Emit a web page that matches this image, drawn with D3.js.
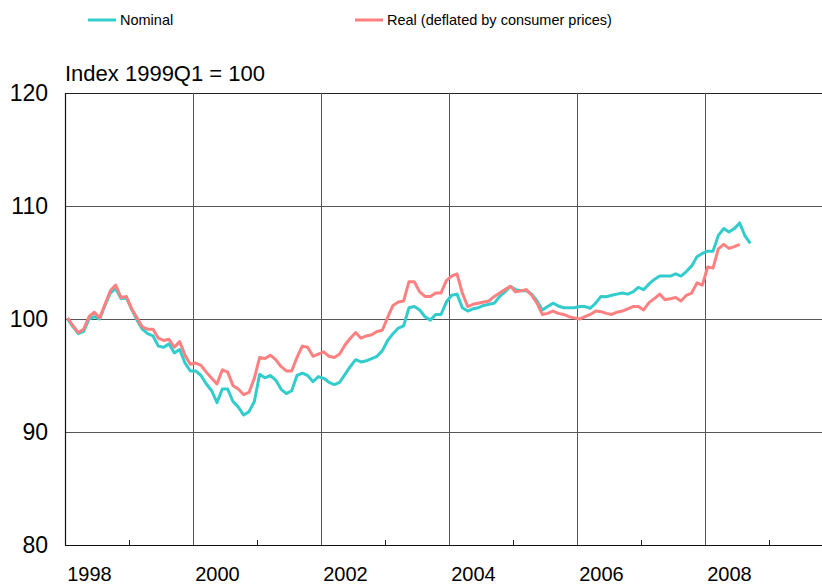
<!DOCTYPE html>
<html>
<head>
<meta charset="utf-8">
<script src="https://cdn.jsdelivr.net/npm/d3@7"></script>
<style>
  body { margin: 0; background: #fff; }
  svg { display: block; font-family: Arial, "Liberation Sans", sans-serif; }
</style>
</head>
<body>
<svg id="chart" width="822" height="587"></svg>
<script>
// monthly index values, 1999Q1 = 100
const nominal = [
  100.0, 99.3, 98.7, 98.9, 100.0, 100.2, 100.0, 101.2, 102.3, 102.7, 101.8, 101.9,
  100.85, 99.9, 99.1, 98.7, 98.5, 97.6, 97.5, 97.8, 97.0, 97.3, 96.1, 95.4,
  95.4, 95.0, 94.25, 93.65, 92.6, 93.8, 93.8, 92.7, 92.2, 91.5, 91.8, 92.7,
  95.1, 94.8, 95.0, 94.6, 93.8, 93.4, 93.65, 95.0, 95.2, 95.0, 94.45, 94.9,
  94.75, 94.4, 94.2, 94.4, 95.1, 95.8, 96.4, 96.2, 96.3, 96.5, 96.7, 97.2,
  98.1, 98.7, 99.2, 99.4, 101.0, 101.1, 100.8, 100.2, 99.9, 100.4, 100.4, 101.5,
  102.1, 102.2, 101.0, 100.7, 100.9, 101.0, 101.2, 101.3, 101.4, 102.0, 102.4, 102.9,
  102.6, 102.5, 102.5, 102.2, 101.6, 100.8, 101.1, 101.4, 101.15, 101.0, 101.0, 101.0,
  101.1, 101.1, 100.95, 101.4, 102.0, 101.97, 102.1, 102.2, 102.3, 102.2, 102.4, 102.8,
  102.6, 103.1, 103.5, 103.8, 103.8, 103.8, 104.0, 103.8, 104.2, 104.7, 105.5, 105.8,
  106.0, 106.0, 107.4, 108.0, 107.7, 108.0, 108.5, 107.35, 106.7
];
const real = [
  100.1, 99.4, 98.8, 99.1, 100.2, 100.6, 100.1, 101.3, 102.5, 103.0, 101.9, 102.0,
  100.9, 100.1, 99.3, 99.1, 99.1, 98.3, 98.1, 98.2, 97.5, 98.0, 96.8, 96.0,
  96.1, 95.9, 95.3, 94.75, 94.25, 95.5, 95.3, 94.1, 93.8, 93.3, 93.5, 94.75,
  96.6, 96.5, 96.8, 96.4, 95.8, 95.4, 95.4, 96.6, 97.6, 97.5, 96.7, 96.9,
  97.1, 96.7, 96.6, 96.9, 97.7, 98.3, 98.8, 98.3, 98.5, 98.6, 98.9, 99.0,
  100.15, 101.2, 101.5, 101.6, 103.3, 103.3, 102.4, 102.0, 102.0, 102.3, 102.3, 103.4,
  103.8, 104.0, 102.3, 101.1, 101.3, 101.4, 101.5, 101.6, 102.0, 102.3, 102.6, 102.9,
  102.4, 102.5, 102.6, 102.1, 101.4, 100.4, 100.5, 100.7, 100.5, 100.4, 100.2, 100.1,
  100.0, 100.2, 100.4, 100.7, 100.65, 100.5, 100.4, 100.6, 100.7, 100.9, 101.1, 101.1,
  100.8, 101.45, 101.8, 102.2, 101.7, 101.8, 101.9, 101.6, 102.1, 102.3, 103.2, 103.0,
  104.6, 104.5, 106.2, 106.6, 106.25, 106.4, 106.6
];
const yearLabels = ["1998", "2000", "2002", "2004", "2006", "2008"];
const yTicks = [80, 90, 100, 110, 120];
const seriesNames = ["Nominal", "Real (deflated by consumer prices)"];

const view = {
  left: 65, right: 833, top: 93, bottom: 545,
  months: 144,
  gridColor: "#555",
  nominalColor: "#33CCCC",
  realColor: "#FF8080"
};

const svg = d3.select("svg#chart");

const x = d3.scaleLinear().domain([0, view.months]).range([view.left, view.right]);
const y = d3.scaleLinear().domain([80, 120]).range([view.bottom, view.top]);

// horizontal gridlines (120 is the top frame)
svg.append("g")
  .selectAll("line")
  .data(yTicks.filter(v => v > 80))
  .join("line")
  .attr("x1", view.left).attr("x2", 822)
  .attr("y1", d => Math.round(y(d)) + 0.5)
  .attr("y2", d => Math.round(y(d)) + 0.5)
  .attr("stroke", d => d == 120 ? "#222" : view.gridColor)
  .attr("stroke-width", 1);

// vertical gridlines every two years
const gridMonths = d3.range(24, view.months + 1, 24);
svg.append("g")
  .selectAll("line")
  .data(gridMonths)
  .join("line")
  .attr("x1", d => Math.round(x(d)) + 0.5)
  .attr("x2", d => Math.round(x(d)) + 0.5)
  .attr("y1", view.top).attr("y2", view.bottom)
  .attr("stroke", view.gridColor)
  .attr("stroke-width", 1);

// minor ticks on the x axis
svg.append("g")
  .selectAll("line")
  .data(d3.range(12, view.months, 24))
  .join("line")
  .attr("x1", d => Math.round(x(d)) + 0.5)
  .attr("x2", d => Math.round(x(d)) + 0.5)
  .attr("y1", view.bottom - 5).attr("y2", view.bottom)
  .attr("stroke", "#222");

// axis lines
svg.append("line")
  .attr("x1", view.left + 0.5).attr("x2", view.left + 0.5)
  .attr("y1", view.top).attr("y2", view.bottom + 0.5)
  .attr("stroke", "#111").attr("stroke-width", 1.2);
svg.append("line")
  .attr("x1", view.left).attr("x2", 822)
  .attr("y1", view.bottom + 0.5).attr("y2", view.bottom + 0.5)
  .attr("stroke", "#111").attr("stroke-width", 1.2);

// y tick labels
const yAxis = d3.axisLeft(y).tickValues(yTicks).tickSize(0).tickPadding(17);
svg.append("g")
  .attr("transform", `translate(${view.left},0)`)
  .call(yAxis)
  .call(g => g.select(".domain").remove())
  .call(g => g.selectAll("text")
    .attr("font-size", 23)
    .attr("font-family", "Arial, 'Liberation Sans', sans-serif")
    .attr("fill", "#000"));

// x labels sit a few months into every second year
const labelMonths = yearLabels.map((_, k) => 24 * k + 4.5);
const xAxis = d3.axisBottom(x)
  .tickValues(labelMonths)
  .tickFormat((d, k) => yearLabels[k])
  .tickSize(0)
  .tickPadding(22);
svg.append("g")
  .attr("transform", `translate(0,${view.bottom})`)
  .call(xAxis)
  .call(g => g.select(".domain").remove())
  .call(g => g.selectAll("text")
    .attr("font-size", 20)
    .attr("font-family", "Arial, 'Liberation Sans', sans-serif")
    .attr("fill", "#000"));

// series
const line = d3.line()
  .x((d, i) => x(i + 0.5))
  .y(d => y(d));

svg.append("path")
  .datum(nominal)
  .attr("fill", "none")
  .attr("stroke", view.nominalColor)
  .attr("stroke-width", 3)
  .attr("stroke-linejoin", "round")
  .attr("d", line);

svg.append("path")
  .datum(real)
  .attr("fill", "none")
  .attr("stroke", view.realColor)
  .attr("stroke-width", 3)
  .attr("stroke-linejoin", "round")
  .attr("d", line);

// unit title
svg.append("text")
  .attr("x", 65).attr("y", 81)
  .attr("font-size", 22)
  .text("Index 1999Q1 = 100");

// legend
const legend = svg.append("g")
  .selectAll("g")
  .data(seriesNames)
  .join("g")
  .attr("transform", (d, i) => `translate(${i == 0 ? 88 : 355},20)`);
legend.append("line")
  .attr("x1", 0).attr("x2", 28)
  .attr("stroke", (d, i) => i == 0 ? view.nominalColor : view.realColor)
  .attr("stroke-width", 3);
legend.append("text")
  .attr("x", 32).attr("y", 5)
  .attr("font-size", 14.5)
  .text(d => d);
</script>
</body>
</html>
